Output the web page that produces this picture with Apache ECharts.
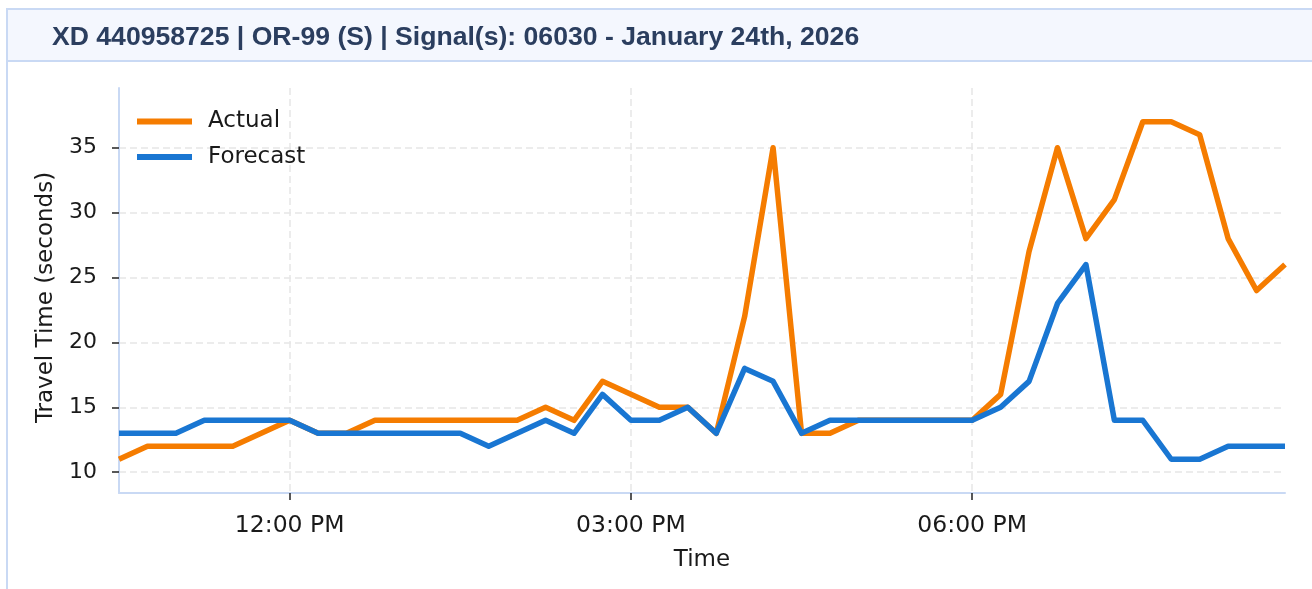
<!DOCTYPE html>
<html>
<head>
<meta charset="utf-8">
<script src="https://cdn.jsdelivr.net/npm/echarts@6/dist/echarts.min.js"></script>
<style>
  html, body { margin: 0; padding: 0; background: #ffffff; }
  #chart { width: 1312px; height: 589px; }
</style>
</head>
<body>
<div id="chart"></div>
<script>
// 15-minute bins for the day
const times = [
  "10:30 AM", "10:45 AM", "11:00 AM", "11:15 AM", "11:30 AM", "11:45 AM",
  "12:00 PM", "12:15 PM", "12:30 PM", "12:45 PM", "01:00 PM", "01:15 PM",
  "01:30 PM", "01:45 PM", "02:00 PM", "02:15 PM", "02:30 PM", "02:45 PM",
  "03:00 PM", "03:15 PM", "03:30 PM", "03:45 PM", "04:00 PM", "04:15 PM",
  "04:30 PM", "04:45 PM", "05:00 PM", "05:15 PM", "05:30 PM", "05:45 PM",
  "06:00 PM", "06:15 PM", "06:30 PM", "06:45 PM", "07:00 PM", "07:15 PM",
  "07:30 PM", "07:45 PM", "08:00 PM", "08:15 PM", "08:30 PM", "08:45 PM"
];

// Travel time in seconds
const actual = [
  11, 12, 12, 12, 12, 13, 14, 13, 13, 14, 14, 14, 14, 14, 14, 15, 14, 17, 16, 15, 15,
  13, 22, 35, 13, 13, 14, 14, 14, 14, 14, 16, 27, 35, 28, 31, 37, 37, 36, 28, 24, 26
];
const forecast = [
  13, 13, 13, 14, 14, 14, 14, 13, 13, 13, 13, 13, 13, 12, 13, 14, 13, 16, 14, 14, 15,
  13, 18, 17, 13, 14, 14, 14, 14, 14, 14, 15, 17, 23, 26, 14, 14, 11, 11, 12, 12, 12
];

// Labelled times on the x axis
const xTickLabels = ["12:00 PM", "03:00 PM", "06:00 PM"];
// Y axis ticks
const yTicks = [10, 15, 20, 25, 30, 35];

const titleText = "XD 440958725 | OR-99 (S) | Signal(s): 06030 - January 24th, 2026";

const FONT = "'DejaVu Sans', sans-serif";
const isLabelled = (idx, val) => xTickLabels.indexOf(val) !== -1;

const chart = echarts.init(document.getElementById('chart'), null, { renderer: 'canvas' });

chart.setOption({
  animation: false,
  backgroundColor: '#ffffff',
  graphic: [
    // card header band
    {
      type: 'rect', z: -10, silent: true,
      shape: { x: 7, y: 9, width: 1330, height: 52 },
      style: { fill: '#f4f7fe', stroke: '#c9d9f4', lineWidth: 2 }
    },
    // card left border
    {
      type: 'line', z: -10, silent: true,
      shape: { x1: 7, y1: 61, x2: 7, y2: 600 },
      style: { stroke: '#c9d9f4', lineWidth: 2 }
    },
    {
      type: 'text', silent: true,
      left: 52, top: 24,
      style: {
        text: titleText,
        fill: '#2b3e5f',
        font: "bold 26.6px 'Liberation Sans', Arial, sans-serif"
      }
    }
  ],
  legend: {
    orient: 'vertical',
    left: 132,
    top: 105,
    itemWidth: 55,
    itemHeight: 6,
    itemGap: 12.5,
    icon: 'rect',
    data: ['Actual', 'Forecast'],
    textStyle: {
      fontFamily: FONT,
      fontSize: 23,
      lineHeight: 23,
      color: '#1a1a1a',
      padding: [0, 0, 0, 11]
    }
  },
  grid: {
    left: 119,
    right: 27,
    top: 88,
    bottom: 96,
    containLabel: false
  },
  xAxis: {
    type: 'category',
    data: times,
    boundaryGap: false,
    name: 'Time',
    nameLocation: 'middle',
    nameGap: 56,
    nameTextStyle: { fontFamily: FONT, fontSize: 23, color: '#1a1a1a', lineHeight: 23 },
    axisLine: { show: true, lineStyle: { color: '#c9d9f4', width: 2 } },
    axisTick: {
      show: true, interval: isLabelled, length: 7, inside: false,
      lineStyle: { color: '#222222', width: 1.5 }
    },
    axisLabel: {
      interval: isLabelled,
      margin: 21,
      fontFamily: FONT,
      fontSize: 23.5,
      color: '#1a1a1a'
    },
    splitLine: {
      show: true, interval: isLabelled,
      lineStyle: { color: '#e6e6e6', width: 1.5, type: [7, 4] }
    }
  },
  yAxis: {
    type: 'value',
    min: 8.4,
    max: 39.6,
    interval: 5,
    name: 'Travel Time (seconds)',
    nameLocation: 'middle',
    nameGap: 61,
    nameTextStyle: {
      fontFamily: FONT, fontSize: 23, color: '#1a1a1a', lineHeight: 23,
      padding: [0, 14, 0, 0]
    },
    axisLine: { show: true, lineStyle: { color: '#c9d9f4', width: 2 } },
    axisTick: {
      show: true, length: 7,
      customValues: yTicks,
      lineStyle: { color: '#222222', width: 1.5 }
    },
    axisLabel: {
      margin: 22,
      fontFamily: FONT,
      fontSize: 22,
      color: '#1a1a1a',
      customValues: yTicks
    },
    splitLine: {
      show: true,
      lineStyle: { color: '#e6e6e6', width: 1.5, type: [7, 4] }
    }
  },
  series: [
    {
      name: 'Actual',
      type: 'line',
      data: actual,
      symbol: 'none',
      color: '#f57c00',
      lineStyle: { color: '#f57c00', width: 5.5, join: 'round' },
      z: 2
    },
    {
      name: 'Forecast',
      type: 'line',
      data: forecast,
      symbol: 'none',
      color: '#1976d2',
      lineStyle: { color: '#1976d2', width: 5.5, join: 'round' },
      z: 3
    }
  ]
});
</script>
</body>
</html>
